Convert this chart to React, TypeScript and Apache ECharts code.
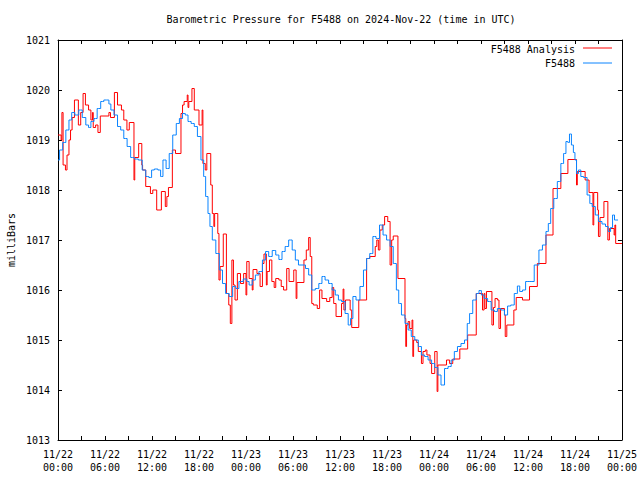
import React, { useEffect, useRef } from "react";
import * as echarts from "echarts";

// Hours since 2024-11-22 00:00 UTC
const xTickLabels: Record<number, string> = {
  0: "11/22\n00:00", 6: "11/22\n06:00", 12: "11/22\n12:00", 18: "11/22\n18:00",
  24: "11/23\n00:00", 30: "11/23\n06:00", 36: "11/23\n12:00", 42: "11/23\n18:00",
  48: "11/24\n00:00", 54: "11/24\n06:00", 60: "11/24\n12:00", 66: "11/24\n18:00",
  72: "11/25\n00:00",
};

const stationHours = [
  0.0, 0.4, 0.8, 1.2, 1.6, 1.9, 2.4, 2.9, 3.3, 3.8, 4.0, 4.4, 4.8, 5.2, 5.7, 6.0, 6.4, 6.6, 6.9, 7.4,
  7.8, 8.2, 8.6, 9.05, 9.5, 10.0, 10.5, 11.0, 11.4, 11.8, 12.1, 12.5, 13.0, 13.2, 13.6, 14.0, 14.4, 14.9, 15.3, 15.7,
  16.1, 16.4, 16.8, 17.2, 17.6, 18.0, 18.5, 18.7, 19.0, 19.3, 19.5, 19.9, 20.4, 20.8, 21.2, 21.6, 22.1, 22.5, 22.9, 23.3,
  24.0, 24.2, 24.6, 25.0, 25.4, 25.9, 26.3, 26.7, 27.1, 27.6, 28.0, 28.4, 28.8, 29.2, 29.7, 30.1, 30.5, 30.9, 31.4, 31.8,
  32.2, 32.6, 33.1, 33.5, 33.9, 34.3, 34.8, 35.2, 35.6, 36.0, 36.4, 36.9, 37.2, 37.5, 37.8, 38.3, 38.8, 39.2, 39.6, 40.0,
  40.4, 40.8, 41.3, 41.7, 42.2, 42.6, 43.0, 43.4, 43.6, 44.1, 44.5, 44.9, 45.3, 45.8, 46.2, 46.6, 47.0, 47.5, 47.9, 48.3,
  48.7, 49.1, 49.6, 50.0, 50.4, 50.8, 51.2, 51.7, 52.1, 52.4, 52.7, 53.2, 53.6, 53.9, 54.2, 54.6, 55.1, 55.5, 55.9, 56.3,
  56.8, 57.2, 57.6, 58.0, 58.5, 58.8, 59.1, 59.5, 59.9, 60.4, 61.2, 61.6, 62.1, 62.5, 62.7, 63.1, 63.5, 64.0, 64.4, 64.7,
  65.0, 65.2, 65.4, 65.7, 65.9, 66.1, 66.3, 66.6, 66.9, 67.3, 67.8, 68.0, 68.4, 68.8, 69.2, 69.7, 70.1, 70.4, 70.7, 70.9,
  71.2, 71.5,
];
const stationValues = [
  1018.6, 1018.8, 1018.95, 1019.2, 1019.4, 1019.55, 1019.5, 1019.6, 1019.45, 1019.3, 1019.25, 1019.37, 1019.43, 1019.63, 1019.77, 1019.8, 1019.8, 1019.72, 1019.6, 1019.5,
  1019.27, 1019.2, 1019.03, 1018.87, 1018.65, 1018.62, 1018.6, 1018.4, 1018.27, 1018.25, 1018.4, 1018.42, 1018.4, 1018.27, 1018.6, 1018.43, 1018.73, 1019.1, 1019.33, 1019.43,
  1019.53, 1019.5, 1019.37, 1019.33, 1019.27, 1019.07, 1018.6, 1018.27, 1017.87, 1017.53, 1017.27, 1017.0, 1016.73, 1016.4, 1016.13, 1015.93, 1015.87, 1016.07, 1016.03, 1016.17,
  1016.22, 1016.17, 1016.1, 1016.2, 1016.3, 1016.37, 1016.6, 1016.77, 1016.67, 1016.79, 1016.7, 1016.61, 1016.77, 1016.87, 1017.0, 1016.8, 1016.6, 1016.5, 1016.5, 1016.43,
  1016.3, 1016.0, 1016.03, 1016.13, 1016.27, 1016.2, 1016.13, 1016.0, 1015.9, 1015.8, 1015.77, 1015.53, 1015.3, 1015.43, 1015.87, 1015.8, 1016.07, 1016.4, 1016.63, 1016.73,
  1017.07, 1017.03, 1017.3, 1017.1, 1017.0, 1016.87, 1016.53, 1016.0, 1015.73, 1015.5, 1015.33, 1015.2, 1015.07, 1015.0, 1014.87, 1014.7, 1014.67, 1014.6, 1014.53, 1014.45,
  1014.3, 1014.1, 1014.43, 1014.47, 1014.6, 1014.77, 1014.87, 1014.93, 1015.0, 1015.33, 1015.53, 1015.8, 1015.93, 1015.99, 1015.9, 1015.83, 1015.77, 1015.6, 1015.57, 1015.63,
  1015.6, 1015.5, 1015.68, 1015.7, 1015.93, 1016.08, 1015.97, 1016.0, 1016.17, 1016.17, 1016.5, 1016.8, 1016.9, 1017.17, 1017.33, 1017.63, 1017.83, 1018.17, 1018.53, 1018.73,
  1018.97, 1018.95, 1019.12, 1018.9, 1018.75, 1018.6, 1018.33, 1018.4, 1018.27, 1018.25, 1017.9, 1017.73, 1017.67, 1017.5, 1017.37, 1017.32, 1017.27, 1017.17, 1017.25, 1017.5,
  1017.4, 1017.4,
];

const analysisHours = [
  0.0, 0.4, 0.5, 0.65, 0.95, 1.15, 1.4, 1.6, 1.8, 2.1, 2.6, 2.9, 3.2, 3.5, 3.9, 4.2, 4.4, 4.5, 4.8, 5.1,
  5.4, 6.5, 6.7, 7.2, 7.6, 8.1, 8.4, 8.8, 9.1, 9.7, 9.8, 10.3, 10.7, 10.8, 11.2, 11.8, 12.1, 12.6, 13.2, 13.7,
  13.9, 14.1, 14.6, 15.0, 15.7, 15.9, 16.1, 16.5, 16.6, 16.7, 17.1, 17.4, 18.0, 18.4, 18.5, 18.8, 19.0, 19.5, 19.7, 19.9,
  20.0, 20.4, 20.55, 20.7, 21.1, 21.5, 21.8, 22.0, 22.2, 22.4, 22.6, 22.9, 23.3, 23.7, 24.0, 24.1, 24.4, 24.8, 24.9, 25.4,
  25.8, 26.1, 26.3, 26.6, 26.7, 27.0, 27.3, 27.6, 27.8, 28.2, 28.5, 28.8, 29.2, 29.5, 30.1, 30.4, 30.5, 31.4, 31.7, 32.0,
  32.2, 32.4, 32.6, 33.1, 33.4, 33.7, 34.3, 34.7, 35.0, 35.2, 35.5, 36.2, 36.4, 36.5, 36.7, 37.3, 37.5, 38.4, 39.4, 39.8,
  40.5, 40.7, 40.9, 41.1, 41.4, 41.7, 42.1, 42.4, 42.6, 42.8, 43.4, 44.3, 44.4, 44.5, 44.7, 44.9, 45.2, 45.3, 45.4, 45.8,
  46.0, 46.4, 46.6, 46.9, 47.1, 47.5, 47.7, 48.1, 48.4, 48.5, 49.6, 50.0, 50.4, 51.3, 52.3, 53.4, 54.2, 54.4, 54.5, 54.7,
  55.4, 55.6, 55.8, 56.1, 56.3, 56.5, 57.0, 57.1, 57.3, 58.2, 58.5, 59.3, 60.2, 61.2, 62.3, 63.2, 64.2, 65.1, 66.2, 66.3,
  67.3, 67.8, 68.3, 68.4, 68.9, 69.0, 69.2, 69.7, 70.2, 70.4, 71.0, 71.1, 71.2, 72.0,
];
const analysisValues = [
  1019.1, 1019.0, 1019.55, 1018.5, 1018.4, 1018.7, 1019.0, 1019.2, 1019.45, 1019.8, 1019.3, 1019.55, 1019.93, 1019.7, 1019.6, 1019.4, 1019.55, 1019.25, 1019.3, 1019.15,
  1019.48, 1019.55, 1019.45, 1019.95, 1019.7, 1019.6, 1019.4, 1019.2, 1019.35, 1018.2, 1018.65, 1018.93, 1018.5, 1018.4, 1018.07, 1017.93, 1018.0, 1017.6, 1017.97, 1017.67,
  1017.87, 1018.05, 1018.8, 1018.73, 1019.53, 1019.7, 1019.77, 1019.9, 1019.65, 1019.77, 1020.03, 1019.6, 1019.3, 1019.6, 1018.53, 1018.4, 1018.73, 1018.1, 1017.53, 1017.27,
  1017.53, 1017.13, 1016.2, 1016.47, 1017.12, 1015.93, 1015.7, 1015.33, 1016.6, 1016.1, 1015.8, 1016.33, 1016.13, 1016.33, 1015.9, 1016.57, 1016.23, 1016.0, 1016.41, 1016.33,
  1016.07, 1016.53, 1016.72, 1016.1, 1016.37, 1016.6, 1016.17, 1016.05, 1016.23, 1016.2, 1016.07, 1016.0, 1016.43, 1016.17, 1016.4, 1015.83, 1016.15, 1016.6, 1016.8, 1017.05,
  1016.67, 1015.73, 1015.7, 1015.63, 1016.0, 1015.83, 1015.77, 1015.85, 1016.05, 1015.73, 1015.47, 1015.73, 1016.02, 1015.6, 1015.8, 1015.6, 1015.25, 1015.8, 1016.63, 1016.67,
  1016.87, 1017.0, 1016.8, 1017.2, 1017.3, 1017.47, 1017.37, 1016.5, 1017.0, 1017.08, 1016.23, 1015.43, 1014.87, 1015.3, 1015.37, 1015.23, 1015.4, 1014.67, 1015.0, 1014.95,
  1014.77, 1014.53, 1014.77, 1014.8, 1014.7, 1014.53, 1014.33, 1014.77, 1013.97, 1014.5, 1014.6, 1014.53, 1014.62, 1014.82, 1015.1, 1015.93, 1015.6, 1015.93, 1015.63, 1015.97,
  1015.3, 1015.65, 1015.83, 1015.8, 1015.23, 1015.63, 1015.5, 1015.07, 1015.3, 1015.6, 1015.85, 1015.8, 1016.07, 1016.53, 1017.1, 1018.03, 1018.33, 1018.61, 1018.1, 1018.37,
  1018.2, 1017.95, 1017.3, 1017.95, 1017.6, 1017.07, 1017.45, 1017.77, 1017.0, 1017.23, 1017.1, 1017.3, 1016.93, 1016.93,
];

const titleText = "Barometric Pressure for F5488 on 2024-Nov-22 (time in UTC)";
const yAxisTitle = "milliBars";
const seriesNames = ["F5488 Analysis", "F5488"];
const RED = "#ff0000";
const BLUE = "#0a84ff";
const FONT = '"DejaVu Sans Mono", "Liberation Mono", monospace';

export default function App() {
  const ref = useRef<HTMLDivElement>(null);
  useEffect(() => {
    if (!ref.current) return;
    const chart = echarts.init(ref.current, undefined, { renderer: "svg" });
    const redData = analysisHours.map((h, i) => [h, analysisValues[i]]);
    const blueData = stationHours.map((h, i) => [h, stationValues[i]]);
    const axisLine = { show: true, onZero: false, lineStyle: { color: "#000", width: 1 } };
    const axisTick = { show: true, inside: true, length: 4, lineStyle: { color: "#000", width: 1 } };
    const font = { fontFamily: FONT, fontSize: 10, color: "#000" };
    chart.setOption({
      animation: false,
      backgroundColor: "#fff",
      grid: { left: 58, right: 15, top: 40, bottom: 40, containLabel: false },
      xAxis: [
        {
          type: "value", min: 0, max: 72, interval: 3, position: "bottom",
          axisLine, axisTick, splitLine: { show: false },
          axisLabel: {
            ...font, lineHeight: 13, margin: 8, showMinLabel: true, showMaxLabel: true,
            formatter: (v: number) => xTickLabels[v] ?? "",
          },
        },
        {
          type: "value", min: 0, max: 72, interval: 3, position: "top",
          axisLine, axisTick, splitLine: { show: false }, axisLabel: { show: false },
        },
      ],
      yAxis: [
        {
          type: "value", min: 1013, max: 1021, interval: 1, position: "left",
          axisLine, axisTick, splitLine: { show: false },
          axisLabel: { ...font, margin: 8, formatter: (v: number) => String(v) },
        },
        {
          type: "value", min: 1013, max: 1021, interval: 1, position: "right",
          axisLine, axisTick, splitLine: { show: false }, axisLabel: { show: false },
        },
      ],
      series: [
        {
          name: seriesNames[0], type: "line", data: redData, step: "end",
          symbol: "none", showSymbol: false, xAxisIndex: 0, yAxisIndex: 0,
          lineStyle: { color: RED, width: 1 }, itemStyle: { color: RED }, z: 2,
        },
        {
          name: seriesNames[1], type: "line", data: blueData, step: "middle",
          symbol: "none", showSymbol: false, xAxisIndex: 0, yAxisIndex: 0,
          lineStyle: { color: BLUE, width: 1 }, itemStyle: { color: BLUE }, z: 3,
        },
      ],
      graphic: [
        {
          type: "text", x: 341, y: 19,
          style: { text: titleText, font: `10px ${FONT}`, fill: "#000", align: "center", verticalAlign: "middle", textAlign: "center", textVerticalAlign: "middle" },
        },
        {
          type: "text", x: 11, y: 240, rotation: Math.PI / 2,
          style: { text: yAxisTitle, font: `10px ${FONT}`, fill: "#000", align: "center", verticalAlign: "middle", textAlign: "center", textVerticalAlign: "middle" },
        },
        {
          type: "text", x: 575, y: 49,
          style: { text: seriesNames[0], font: `10px ${FONT}`, fill: "#000", align: "right", verticalAlign: "middle", textAlign: "right", textVerticalAlign: "middle" },
        },
        { type: "line", shape: { x1: 583, y1: 48, x2: 612, y2: 48 }, style: { stroke: RED, lineWidth: 1 } },
        {
          type: "text", x: 575, y: 63,
          style: { text: seriesNames[1], font: `10px ${FONT}`, fill: "#000", align: "right", verticalAlign: "middle", textAlign: "right", textVerticalAlign: "middle" },
        },
        { type: "line", shape: { x1: 583, y1: 63, x2: 612, y2: 63 }, style: { stroke: BLUE, lineWidth: 1 } },
      ],
    });
    return () => chart.dispose();
  }, []);
  return (
    <div
      ref={ref}
      style={{ position: "fixed", left: 0, top: 0, width: 640, height: 480, background: "#fff" }}
    />
  );
}
